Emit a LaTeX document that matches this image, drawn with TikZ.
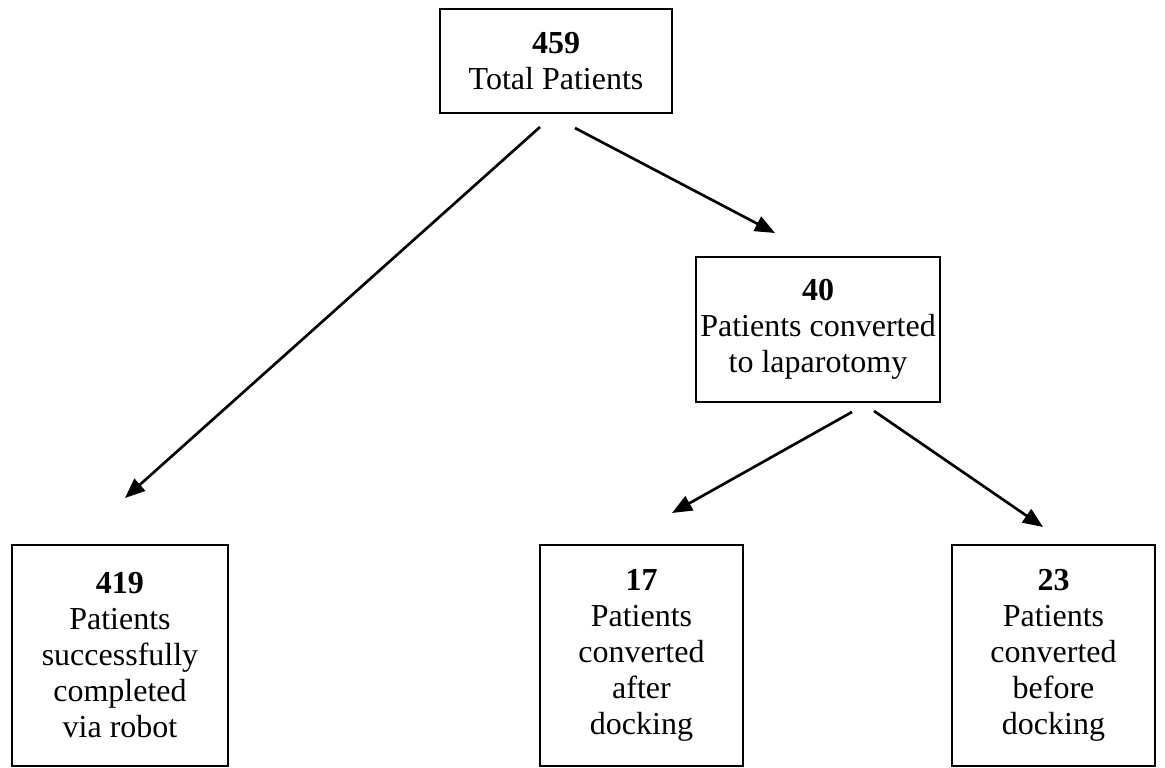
\documentclass[tikz,border=0pt]{standalone}
\usepackage{fontspec}
\setmainfont{Liberation Serif}
\usetikzlibrary{arrows.meta}
\begin{document}
\begin{tikzpicture}[x=0.75pt,y=-0.75pt,
  box/.style={draw,line width=1.3pt,align=center,inner sep=0pt,
    font=\fontsize{24}{27}\selectfont},
  arr/.style={line width=2pt,-{Triangle[length=15pt,width=12pt]}}]
\useasboundingbox (0,0) rectangle (1165,768);
\node[box,minimum width=232*0.75pt,minimum height=104*0.75pt] (top) at (556,61)
  {\textbf{459}\\Total Patients};
\node[box,minimum width=244*0.75pt,minimum height=145*0.75pt] (conv) at (818,329.5)
  {\textbf{40}\\Patients converted\\to laparotomy};
\node[box,minimum width=216*0.75pt,minimum height=221*0.75pt] (robot) at (120,655.5)
  {\textbf{419}\\Patients\\successfully\\completed\\via robot};
\node[box,minimum width=203*0.75pt,minimum height=221*0.75pt] (after) at (641.5,655.5)
  {\textbf{17}\\Patients\\converted\\after\\docking};
\node[box,minimum width=203*0.75pt,minimum height=221*0.75pt] (before) at (1053.5,655.5)
  {\textbf{23}\\Patients\\converted\\before\\docking};
\coordinate (a1s) at (540,127);
\coordinate (a1e) at (125,498);
\coordinate (a2s) at (575,128);
\coordinate (a2e) at (775,233);
\coordinate (a3s) at (852,412);
\coordinate (a3e) at (672,513);
\coordinate (a4s) at (874,411);
\coordinate (a4e) at (1043,527);
\draw[arr] (a1s) -- (a1e);
\draw[arr] (a2s) -- (a2e);
\draw[arr] (a3s) -- (a3e);
\draw[arr] (a4s) -- (a4e);
\end{tikzpicture}
\end{document}
